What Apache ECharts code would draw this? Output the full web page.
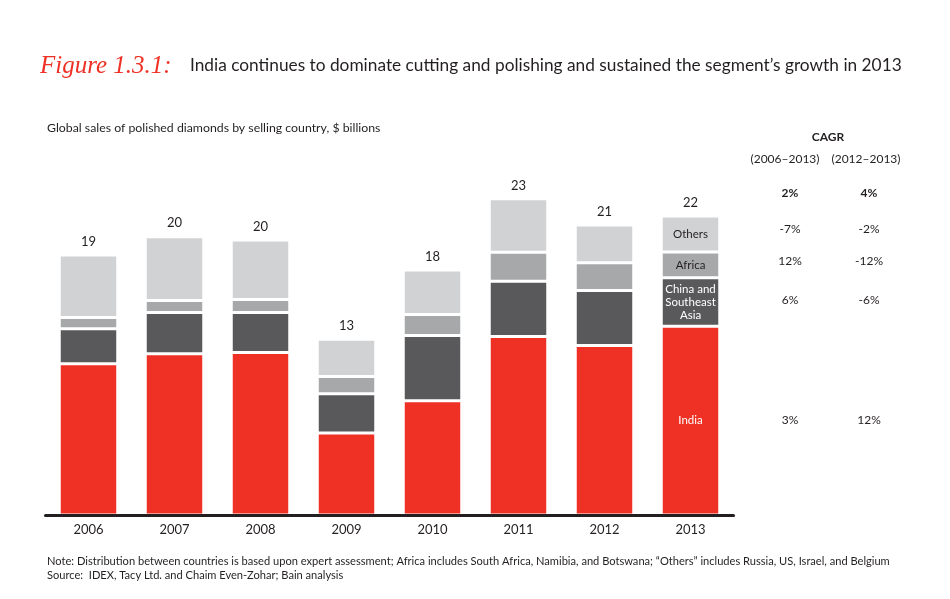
<!DOCTYPE html>
<html>
<head>
<meta charset="utf-8">
<script src="https://cdn.jsdelivr.net/npm/echarts@6/dist/echarts.min.js"></script>
<style>html,body{margin:0;padding:0;background:#fff;}#c{width:950px;height:599px;}</style>
</head>
<body>
<div id="c"></div>
<script>
const years = ['2006','2007','2008','2009','2010','2011','2012','2013'];
const india  = [11.04, 11.77, 11.85, 5.99, 8.33, 13.02, 12.36, 13.77];
const china  = [2.56, 3.00, 2.93, 2.86, 4.76, 4.03, 4.03, 3.54];
const africa = [0.81, 0.88, 0.95, 1.25, 1.54, 2.12, 2.02, 1.88];
const others = [4.56, 4.66, 4.34, 2.73, 3.25, 3.90, 2.76, 2.62];
const totalLabels = ['19','20','20','13','18','23','21','22'];
const cagrCols = ['(2006–2013)', '(2012–2013)'];
const cagrTotal = ['2%', '4%'];
const cagrOthers = ['-7%', '-2%'];
const cagrAfrica = ['12%', '-12%'];
const cagrChina = ['6%', '-6%'];
const cagrIndia = ['3%', '12%'];

const FONT = 'Lato, "Noto Sans", sans-serif';
const DARK = '#231f20';
const chart = echarts.init(document.getElementById('c'), null, {renderer: 'canvas'});

function seg(name, data, color, insideText, insideColor) {
  return {
    name, type: 'bar', stack: 'all', barWidth: 58.5,
    itemStyle: {color, borderColor: '#fff', borderWidth: 1.5},
    data: data.map((v, i) => {
      const o = {value: v};
      if (i === data.length - 1 && insideText) {
        o.label = {show: true, position: 'inside', formatter: insideText, color: insideColor,
          fontFamily: FONT, fontSize: 11.5, lineHeight: 13};
      }
      return o;
    })
  };
}

const totalSeries = {
  name: 'Total', type: 'bar', stack: 'all', barWidth: 58.5,
  itemStyle: {color: 'transparent'},
  silent: true,
  data: years.map(() => 0),
  label: {show: true, position: 'top', distance: 7, color: DARK, fontFamily: FONT, fontSize: 13,
    formatter: p => totalLabels[p.dataIndex]}
};

const col1 = 790, col2 = 869;
function row(y, vals, bold) {
  return vals.map((v, k) => ({type: 'text', x: k === 0 ? col1 : col2, y,
    style: {text: v, fill: DARK, font: (bold ? 'bold ' : '') + '12px ' + FONT, align: 'center', verticalAlign: 'middle'}}));
}

const option = {
  animation: false,
  backgroundColor: '#fff',
  grid: {left: 45.5, width: 688, top: 145, bottom: 84},
  xAxis: {
    type: 'category', data: years, z: 3,
    axisLine: {lineStyle: {color: DARK, width: 3}},
    axisTick: {show: false},
    axisLabel: {color: DARK, fontFamily: FONT, fontSize: 13, margin: 8}
  },
  yAxis: {type: 'value', min: 0, max: 27, show: false, splitLine: {show: false}},
  series: [
    seg('India', india, '#ee3124', 'India', '#fff'),
    seg('China and Southeast Asia', china, '#59595b', 'China and\nSoutheast\nAsia', '#fff'),
    seg('Africa', africa, '#a7a8aa', 'Africa', DARK),
    seg('Others', others, '#d1d2d4', 'Others', DARK),
    totalSeries
  ],
  graphic: [
    {type: 'text', x: 40, y: 66, style: {text: 'Figure 1.3.1:', fill: '#ee3124', font: 'italic 25px "Liberation Serif", serif', verticalAlign: 'middle'}},
    {type: 'text', x: 190, y: 65, style: {text: 'India continues to dominate cutting and polishing and sustained the segment’s growth in 2013', fill: DARK, font: '17.3px ' + FONT, verticalAlign: 'middle'}},
    {type: 'text', x: 47, y: 128, style: {text: 'Global sales of polished diamonds by selling country, $ billions', fill: DARK, font: '12.3px ' + FONT, verticalAlign: 'middle'}},
    {type: 'text', x: 828, y: 137, style: {text: 'CAGR', fill: DARK, font: 'bold 12px ' + FONT, align: 'center', verticalAlign: 'middle'}},
    {type: 'text', x: col1 - 5, y: 159, style: {text: cagrCols[0], fill: DARK, font: '12px ' + FONT, align: 'center', verticalAlign: 'middle'}},
    {type: 'text', x: col2 - 3, y: 159, style: {text: cagrCols[1], fill: DARK, font: '12px ' + FONT, align: 'center', verticalAlign: 'middle'}},
    ...row(193, cagrTotal, true),
    ...row(229, cagrOthers),
    ...row(261, cagrAfrica),
    ...row(300, cagrChina),
    ...row(420, cagrIndia),
    {type: 'text', x: 47, y: 561, style: {text: 'Note: Distribution between countries is based upon expert assessment; Africa includes South Africa, Namibia, and Botswana; “Others” includes Russia, US, Israel, and Belgium', fill: DARK, font: '11.1px ' + FONT, verticalAlign: 'middle'}},
    {type: 'text', x: 47, y: 575, style: {text: 'Source:  IDEX, Tacy Ltd. and Chaim Even-Zohar; Bain analysis', fill: DARK, font: '11.1px ' + FONT, verticalAlign: 'middle'}}
  ]
};
chart.setOption(option);
</script>
</body>
</html>
